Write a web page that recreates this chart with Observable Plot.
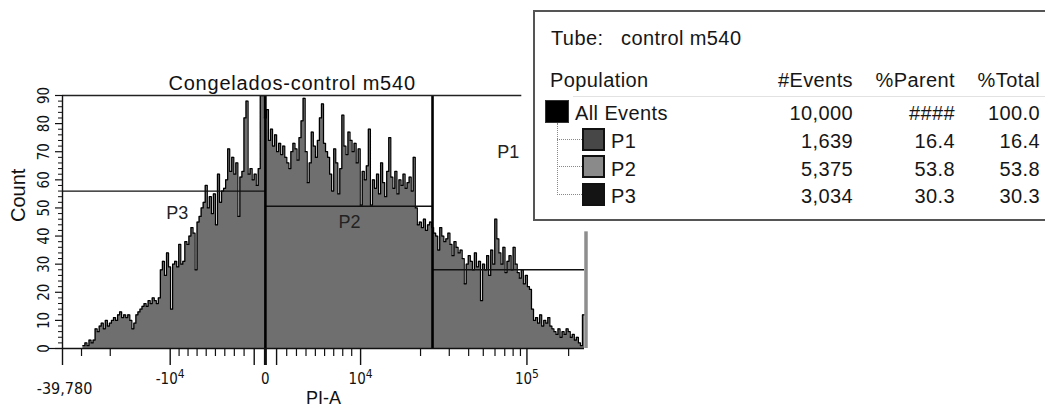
<!DOCTYPE html>
<html><head><meta charset="utf-8">
<script src="https://cdn.jsdelivr.net/npm/d3@7"></script>
<script src="https://cdn.jsdelivr.net/npm/@observablehq/plot@0.6"></script>
<style>
html,body{margin:0;padding:0;background:#fff;overflow:hidden}
#wrap{position:relative;width:1045px;height:407px;overflow:hidden;font-family:"Liberation Sans",Arial,sans-serif;color:#111}
#wrap svg{position:absolute;left:0;top:0}
.lg{position:absolute;white-space:nowrap;font-size:20px;line-height:20px;letter-spacing:0.4px;color:#161616}
.box{position:absolute;left:533px;top:10px;width:620px;height:211px;border:2px solid #555;box-sizing:border-box;background:#fff}
.sw{position:absolute;box-sizing:border-box}
</style></head><body><div id="wrap"></div>
<script>
// ---------- data ----------
const title = "Congelados-control m540";
const xLabel = "PI-A";
const yLabel = "Count";
const xMin = -39780, xMax = 262144;
// histogram counts, 256 bins evenly spaced on the biexponential display axis
const counts = [
 0,0,0,0,0,0,0,0,0,0,
 1,2,1,3,2,3,
 7,6,8,9,7,10,8,9,10,
 11,10,12,13,11,12,11,12,
 10,7,9,12,13,14,15,
 16,15,17,16,18,17,16,18,
 28,31,26,34,29,14,30,
 31,29,37,30,31,
 38,37,40,43,41,28,
 45,47,50,52,58,
 50,54,48,55,44,62,52,56,57,
 60,71,63,68,62,66,47,
 61,63,82,88,62,64,
 60,62,58,64,90,
 90,82,85,
 74,78,72,76,70,73,69,
 72,68,66,64,70,73,71,67,75,
 81,89,70,
 59,66,77,72,68,74,
 82,87,73,70,
 68,62,56,71,66,55,64,
 83,
 72,69,77,74,70,73,66,71,
 51,63,60,
 65,78,51,
 60,57,62,55,66,59,54,63,
 75,
 61,57,63,55,60,58,62,57,59,61,56,68,
 50,44,45,
 43,46,42,44,45,43,41,
 40,
 35,43,40,38,
 39,41,37,33,38,36,34,35,
 32,23,30,33,31,28,34,29,31,17,30,28,33,26,35,30,46,
 39,34,30,36,27,31,33,28,36,30,
 27,25,28,23,26,22,21,
 14,10,
 11,9,12,8,10,9,11,8,
 7,6,5,7,4,6,5,7,6,4,5,
 3,4,2,1,
 12
];
const overflowHeight = 41.5;
const gateNames = ["P3", "P2", "P1"];
const gateStart = [-39780, 0, 23600];
const gateEnd = [0, 23600, 262144];
const gateLevel = [56, 50.6, 28];
const gateLabelX = [-9200, 8760, 74050];
const gateLabelY = [48, 44.8, 69.8];
const frameTopEnd = 92000;
const yTicks = [0,10,20,30,40,50,60,70,80,90];
const yMinor = [2,4,6,8,12,14,16,18,22,24,26,28,32,34,36,38,42,44,46,48,52,54,56,58,62,64,66,68,72,74,76,78,82,84,86,88];
const xMajor = [-39780, -10000, -1000, 0, 1000, 10000, 100000];
const xMinor = [-30000,-20000,-9000,-8000,-7000,-6000,-5000,-4000,-3000,-2000,
                2000,3000,4000,5000,6000,7000,8000,9000,
                20000,30000,40000,50000,60000,70000,80000,90000,200000];
const xLabelTicks = [-10000, 0, 10000, 100000];
const xLabelText = ["-10^4", "0", "10^4", "10^5"];
const xMinText = "-39,780";
// legend table
const tubeName = "control m540";
const headers = ["Population", "#Events", "%Parent", "%Total"];
const popNames = ["All Events", "P1", "P2", "P3"];
const popEvents = ["10,000", "1,639", "5,375", "3,034"];
const popParent = ["####", "16.4", "53.8", "30.3"];
const popTotal = ["100.0", "16.4", "53.8", "30.3"];
const popColors = ["#000000", "#474747", "#8a8a8a", "#141414"];

// ---------- biexponential display transform ----------
function biex(v) {
  const a = Math.abs(v), s = Math.sign(v);
  const g = a <= 1e4 ? 95 * Math.pow(a / 1e4, 0.93) : 95 + 166 * Math.pow(Math.log10(a / 1e4), 0.85);
  return s * g;
}
const d0 = biex(xMin), d1 = biex(xMax);
const nb = counts.length;
const edge = i => d0 + i * (d1 - d0) / nb;
const pts = counts.map((c, i) => ({x: edge(i), y: c}));
pts.push({x: d1, y: counts[nb - 1]});
const firstIdx = counts.findIndex(c => c > 0);
const outline = pts.slice(firstIdx);

const gates = gateNames.map((n, i) => ({name: n, x1: biex(gateStart[i]), x2: biex(gateEnd[i]), y: gateLevel[i], lx: biex(gateLabelX[i]), ly: gateLabelY[i]}));

const tickFont = "'Liberation Sans Narrow','DejaVu Sans Condensed','Liberation Sans',sans-serif";

const plot = Plot.plot({
  width: 1045, height: 407,
  marginLeft: 62, marginRight: 461, marginTop: 95, marginBottom: 59,
  style: {fontFamily: "'Liberation Sans',Arial,sans-serif", color: "#111", background: "transparent"},
  x: {domain: [d0, d1], label: null},
  y: {domain: [0, 90], label: null},
  marks: [
    Plot.areaY(pts, {x: "x", y: "y", curve: "step-after", fill: "#6f6f6f"}),
    Plot.line(outline, {x: "x", y: "y", curve: "step-after", stroke: "#000", strokeWidth: 1.25}),
    Plot.ruleX([d1], {y1: 0, y2: overflowHeight, stroke: "#8e8e8e", strokeWidth: 3.5, dx: 1.5}),
    Plot.ruleY(gates, {y: "y", x1: "x1", x2: "x2", stroke: "#111", strokeWidth: 1.4}),
    Plot.ruleX([gateEnd[0], gateEnd[1]].map(biex), {y1: 0, y2: 90, stroke: "#000", strokeWidth: 2.6}),
    Plot.ruleY([90], {x1: d0, x2: biex(frameTopEnd), stroke: "#222", strokeWidth: 1.3}),
    Plot.ruleX([d0], {y1: 0, y2: 90, stroke: "#111", strokeWidth: 1.4}),
    Plot.ruleY([0], {x1: d0, x2: d1, stroke: "#111", strokeWidth: 1.4}),
    Plot.text(gates, {x: "lx", y: "ly", text: "name", fontSize: 18, fill: "#222"}),
    // y axis
    Plot.axisY({ticks: yTicks, tickSize: 7, tickPadding: 7, tickRotate: -90, fontSize: 15, fontFamily: tickFont, label: null, strokeWidth: 1.2}),
    Plot.axisY({ticks: [0], tickSize: 14, fill: "none", label: null, strokeWidth: 1.2}),
    Plot.axisY({ticks: yMinor, tickSize: 4, fill: "none", label: null}),
    // x axis
    Plot.axisX({ticks: xMinor.map(biex), tickSize: 8, fill: "none", label: null, strokeWidth: 1.2}),
    Plot.axisX({ticks: xMajor.filter(v => v !== 0).map(biex), tickSize: 17, fill: "none", label: null, strokeWidth: 1.4}),
    Plot.axisX({ticks: [biex(0)], tickSize: 17, fill: "none", label: null, strokeWidth: 3}),
    Plot.axisX({ticks: xLabelTicks.map(biex), tickSize: 0, tickPadding: 25, tickFormat: (d, i) => xLabelText[i], fontSize: 15, fontFamily: tickFont, label: null}),
    Plot.axisX({ticks: [d0], tickSize: 0, tickPadding: 34, tickFormat: () => xMinText, fontSize: 16, fontFamily: tickFont, label: null, dx: 2}),
    Plot.text([xLabel], {frameAnchor: "bottom", dy: 43, lineAnchor: "top", fontSize: 18, text: d => d}),
    Plot.text([yLabel], {frameAnchor: "left", dx: -44, rotate: -90, fontSize: 20, text: d => d}),
    Plot.text([title], {x: (d0 + biex(frameTopEnd)) / 2, frameAnchor: "top", dy: -6, lineAnchor: "bottom", fontSize: 20, text: d => d})
  ]
});

// superscript exponents in tick labels
plot.querySelectorAll("text").forEach(t => {
  const s = t.textContent;
  const m = s.match(/^(-?10)\^(\d)$/);
  if (m) {
    t.textContent = m[1];
    const ts = document.createElementNS("http://www.w3.org/2000/svg", "tspan");
    ts.setAttribute("dy", "-0.5em");
    ts.setAttribute("font-size", "0.8em");
    ts.textContent = m[2];
    t.appendChild(ts);
  }
});
plot.querySelectorAll("text").forEach(t => { if (t.textContent === title) t.style.letterSpacing = "0.8px"; });

const wrap = document.getElementById("wrap");
wrap.appendChild(plot);

// ---------- legend ----------
function span(txt, left, baseline, right) {
  const e = document.createElement("div");
  e.className = "lg";
  e.textContent = txt;
  e.style.top = (baseline - 17) + "px";
  if (right != null) { e.style.right = (1045 - right) + "px"; e.style.textAlign = "right"; }
  else e.style.left = left + "px";
  wrap.appendChild(e);
}
const box = document.createElement("div"); box.className = "box"; wrap.appendChild(box);
span("Tube:", 551, 45);
span(tubeName, 621, 45);
span(headers[0], 550, 87);
span(headers[1], null, 87, 853);
span(headers[2], null, 87, 955);
span(headers[3], null, 87, 1040);
const sep = document.createElement("div");
sep.style.cssText = "position:absolute;left:573px;top:96px;width:480px;height:1px;background:#e2e2e2";
wrap.appendChild(sep);
// tree lines
const tree = [["left:557px;top:123px;width:0;height:72px;border-left:1px dotted #888"],
              ["left:557px;top:139px;width:25px;height:0;border-top:1px dotted #888"],
              ["left:557px;top:166px;width:25px;height:0;border-top:1px dotted #888"],
              ["left:557px;top:194px;width:25px;height:0;border-top:1px dotted #888"]];
tree.forEach(c => { const e = document.createElement("div"); e.style.cssText = "position:absolute;" + c[0]; wrap.appendChild(e); });
const rowBase = [120, 148, 176, 203];
const swTop = [100, 128, 155, 183];
popNames.forEach((n, i) => {
  const sw = document.createElement("div");
  sw.className = "sw";
  if (i === 0) sw.style.cssText += `left:545px;top:${swTop[i]}px;width:24px;height:23px;background:${popColors[i]};border:1px solid #333`;
  else sw.style.cssText += `left:582px;top:${swTop[i]}px;width:23px;height:23px;background:${popColors[i]};border:2px solid #111`;
  wrap.appendChild(sw);
  span(n, i === 0 ? 575 : 611, rowBase[i]);
  span(popEvents[i], null, rowBase[i], 853);
  span(popParent[i], null, rowBase[i], 955);
  span(popTotal[i], null, rowBase[i], 1040);
});
</script></body></html>
